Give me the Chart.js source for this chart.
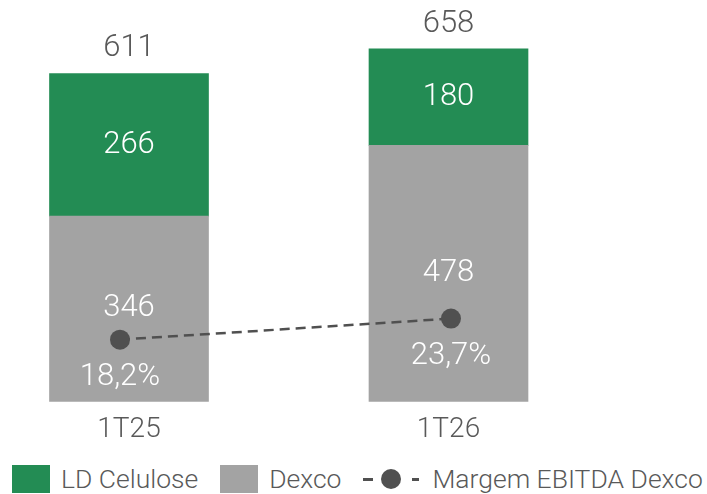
<!DOCTYPE html>
<html>
<head>
<meta charset="utf-8">
<script src="https://cdn.jsdelivr.net/npm/chart.js@4"></script>
<style>
  body { margin: 0; background: #fff; font-family: Roboto, sans-serif; }
  #wrap { position: relative; width: 707px; height: 494px; overflow: hidden; }
  #chart { position: absolute; left: 0; top: 0; }
  #legend { position: absolute; left: 12px; top: 465px; height: 28px; display: flex; align-items: center;
            font-size: 26.5px; font-weight: 300; color: #595959; line-height: 28px; white-space: nowrap; }
  .box { width: 38px; height: 28px; margin-right: 11px; }
  .item { display: flex; align-items: center; margin-right: 22px; }
  .dash { width: 10px; height: 3px; background: #505050; }
  .dot { width: 20px; height: 20px; border-radius: 50%; background: #505050; margin: 0 11px 0 8px; }
</style>
</head>
<body>
<div id="wrap">
  <canvas id="chart" width="707" height="451"></canvas>
  <div id="legend"></div>
</div>
<script>
const categories = ['1T25', '1T26']
const dexco = [346, 478]
const ldCelulose = [266, 180]
const totals = [611, 658]
const margemEbitda = [18.2, 23.7]

const green = '#238c54'
const gray = '#a3a3a3'
const dark = '#505050'
const textGray = '#595959'

Chart.defaults.font.family = 'Roboto'

function fmtPct(v) {
    return v.toFixed(1).replace('.', ',') + '%'
}

// draws the numbers on the bars, the totals and the margin labels
const valueLabels = {
    id: 'valueLabels',
    afterDatasetsDraw(chart) {
        const ctx = chart.ctx
        ctx.save()
        ctx.textAlign = 'center'
        ctx.textBaseline = 'middle'
        ctx.font = '300 31px Roboto'
        ctx.fillStyle = '#fff'
        for (var d = 0; d < 2; d++) {
            var meta = chart.getDatasetMeta(d)
            meta.data.forEach(function (bar, i) {
                ctx.fillText(chart.data.datasets[d].data[i], bar.x, (bar.y + bar.base) / 2)
            })
        }
        ctx.fillStyle = textGray
        chart.getDatasetMeta(1).data.forEach(function (bar, i) {
            ctx.fillText(totals[i], bar.x, bar.y - 25)
        })
        ctx.fillStyle = '#fff'
        chart.getDatasetMeta(2).data.forEach(function (pt, i) {
            ctx.fillText(fmtPct(margemEbitda[i]), pt.x, pt.y + 38)
        })
        ctx.restore()
    }
}

new Chart(document.getElementById('chart'), {
    type: 'bar',
    data: {
        labels: categories,
        datasets: [{
            label: 'Dexco',
            data: dexco,
            backgroundColor: gray,
            stack: 's',
            grouped: false,
            barThickness: 159,
            clip: false,
            order: 1
        }, {
            label: 'LD Celulose',
            data: ldCelulose,
            backgroundColor: green,
            stack: 's',
            grouped: false,
            barThickness: 159,
            clip: false,
            order: 1
        }, {
            type: 'line',
            label: 'Margem EBITDA Dexco',
            data: margemEbitda.map(function (v, i) { return { x: i, y: v } }),
            xAxisID: 'x2',
            yAxisID: 'y2',
            borderColor: dark,
            backgroundColor: dark,
            borderWidth: 2.5,
            borderDash: [10, 6],
            pointRadius: 10,
            pointHoverRadius: 10,
            pointBorderWidth: 0,
            clip: false,
            order: 0
        }]
    },
    options: {
        responsive: false,
        animation: false,
        layout: { autoPadding: false, padding: { left: 129, right: 258.5, top: 0, bottom: 0 } },
        plugins: {
            legend: { display: false },
            tooltip: { enabled: false }
        },
        scales: {
            x: {
                offset: false,
                stacked: true,
                grid: { display: false },
                border: { display: false },
                ticks: { color: textGray, padding: 4, font: { size: 28, weight: 300 } }
            },
            x2: { type: 'linear', display: false, offset: false, min: 0.0272, max: 0.9925 },
            y: { stacked: true, display: false, min: 0, max: 749.3 },
            y2: { display: false, min: 2.04, max: 107.06, position: 'right' }
        }
    },
    plugins: [valueLabels]
})

// legend
const legend = document.getElementById('legend')
legend.innerHTML =
    '<div class="item"><div class="box" style="background:' + green + '"></div>LD Celulose</div>' +
    '<div class="item"><div class="box" style="background:' + gray + '"></div>Dexco</div>' +
    '<div class="item" style="margin-right:0"><div class="dash"></div><div class="dot"></div><div class="dash" style="width:7px;margin-right:13px"></div>Margem EBITDA Dexco</div>'
</script>
</body>
</html>
